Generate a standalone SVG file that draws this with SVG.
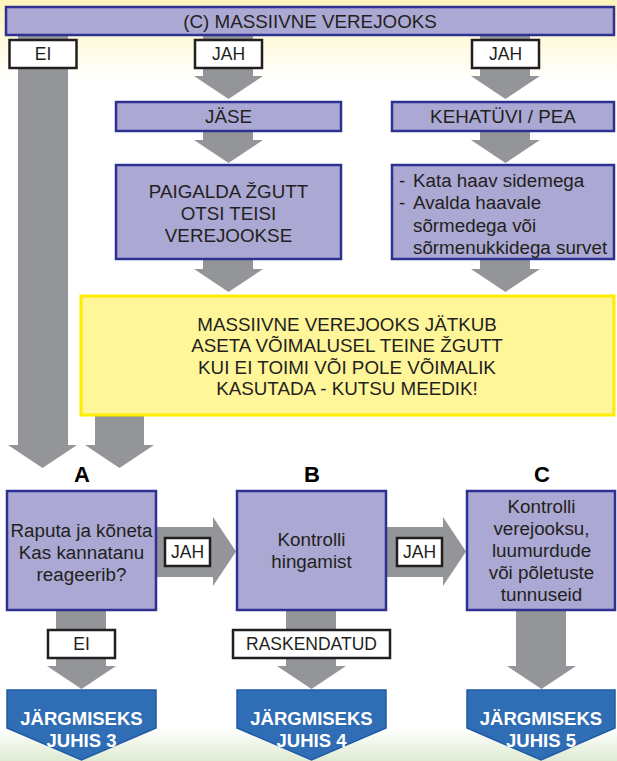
<svg xmlns="http://www.w3.org/2000/svg" width="617" height="761" viewBox="0 0 617 761">
<defs>
<linearGradient id="topg" x1="0" y1="0" x2="0" y2="1">
<stop offset="0" stop-color="#fdf4bc"/>
<stop offset="1" stop-color="#ffffff"/>
</linearGradient>
<linearGradient id="botg" x1="0" y1="0" x2="0" y2="1">
<stop offset="0" stop-color="#ffffff"/>
<stop offset="1" stop-color="#dfebd3"/>
</linearGradient>
<style>
text{font-family:"Liberation Sans",Arial,sans-serif;font-size:18.8px;fill:#231f20;text-anchor:middle}
.box{fill:#aba8d3;stroke:#2e3192;stroke-width:2.5}
.lbl{fill:#ffffff;stroke:#231f20;stroke-width:2.5}
.lt{font-size:17.5px}
.arr{fill:#939598}
.ylw{fill:#fff599;stroke:#ffed00;stroke-width:3}
.blue{fill:#2f6db5;stroke:#1f5ba6;stroke-width:1.5}
.bt{fill:#ffffff;font-weight:bold;font-size:18.5px}
.hd{font-weight:bold;font-size:22px;fill:#000}
.lft{text-anchor:start}
</style>
</defs>
<rect x="0" y="0" width="617" height="761" fill="#ffffff"/>
<rect x="0" y="0" width="617" height="80" fill="url(#topg)"/>
<rect x="0" y="728" width="617" height="33" fill="url(#botg)"/>

<g id="connectors">
<polygon class="arr" points="18,35 68,35 68,445 77,445 42.5,468 8,445 18,445"/>
<polygon class="arr" points="203,35 253,35 253,76 263,76 228.5,99 194,76 203,76"/>
<polygon class="arr" points="480,35 530,35 530,76 540,76 505.5,99 471,76 480,76"/>
<polygon class="arr" points="203,131 253,131 253,140 263,140 228.5,163 194,140 203,140"/>
<polygon class="arr" points="480,131 530,131 530,140 540,140 505.5,163 471,140 480,140"/>
<polygon class="arr" points="203,259 253,259 253,269 263,269 228.5,292 194,269 203,269"/>
<polygon class="arr" points="480,259 530,259 530,269 540,269 505.5,292 471,269 480,269"/>
<polygon class="arr" points="95,415 144,415 144,445 154,445 119.5,468 85,445 95,445"/>
<polygon class="arr" points="156,527 213,527 213,517 236,551.5 213,586 213,577 156,577"/>
<polygon class="arr" points="386,527 443,527 443,517 466,551.5 443,586 443,577 386,577"/>
<polygon class="arr" points="56,610 106,610 106,666 116,666 81.5,689 47,666 56,666"/>
<polygon class="arr" points="286,610 336,610 336,666 346,666 311.5,689 277,666 286,666"/>
<polygon class="arr" points="516,610 566,610 566,666 576,666 541.5,689 507,666 516,666"/>
</g>

<g id="top">
<rect class="box" x="6" y="7" width="608" height="28"/>
<text x="310" y="28">(C) MASSIIVNE VEREJOOKS</text>
</g>
<g id="lbl-ei-top">
<rect class="lbl" x="9.5" y="40" width="67" height="28"/>
<text class="lt" x="43" y="60">EI</text>
</g>
<g id="lbl-jah-1">
<rect class="lbl" x="195" y="40" width="67" height="28"/>
<text class="lt" x="228.5" y="60">JAH</text>
</g>
<g id="lbl-jah-2">
<rect class="lbl" x="472" y="40" width="67" height="28"/>
<text class="lt" x="505.5" y="60">JAH</text>
</g>
<g id="jase">
<rect class="box" x="116" y="102" width="225" height="29"/>
<text x="228.5" y="123">JÄSE</text>
</g>
<g id="kehatuvi">
<rect class="box" x="392" y="102" width="222" height="29"/>
<text x="503" y="123">KEHATÜVI / PEA</text>
</g>
<g id="paigalda">
<rect class="box" x="116" y="165" width="225" height="94"/>
<text x="228.5" y="198">PAIGALDA ŽGUTT</text>
<text x="228.5" y="220">OTSI TEISI</text>
<text x="228.5" y="242">VEREJOOKSE</text>
</g>
<g id="kata">
<rect class="box" x="392" y="165" width="222" height="94"/>
<text class="lft" x="399" y="187">-</text>
<text class="lft" x="413" y="187">Kata haav sidemega</text>
<text class="lft" x="399" y="209">-</text>
<text class="lft" x="413" y="209">Avalda haavale</text>
<text class="lft" x="413" y="232">sõrmedega või</text>
<text class="lft" x="413" y="254">sõrmenukkidega survet</text>
</g>
<g id="jatkub">
<rect class="ylw" x="81" y="296" width="533" height="119"/>
<text x="347" y="331">MASSIIVNE VEREJOOKS JÄTKUB</text>
<text x="347" y="352">ASETA VÕIMALUSEL TEINE ŽGUTT</text>
<text x="347" y="374">KUI EI TOIMI VÕI POLE VÕIMALIK</text>
<text x="347" y="395">KASUTADA - KUTSU MEEDIK!</text>
</g>
<g id="head-a"><text class="hd" x="82" y="482">A</text></g>
<g id="head-b"><text class="hd" x="312" y="482">B</text></g>
<g id="head-c"><text class="hd" x="542" y="482">C</text></g>
<g id="box-a">
<rect class="box" x="7" y="491" width="149" height="119"/>
<text x="81.5" y="537">Raputa ja kõneta</text>
<text x="81.5" y="559">Kas kannatanu</text>
<text x="81.5" y="581">reageerib?</text>
</g>
<g id="box-b">
<rect class="box" x="237" y="491" width="149" height="119"/>
<text x="311.5" y="546">Kontrolli</text>
<text x="311.5" y="568">hingamist</text>
</g>
<g id="box-c">
<rect class="box" x="467" y="491" width="148" height="119"/>
<text x="541.5" y="513">Kontrolli</text>
<text x="541.5" y="535">verejooksu,</text>
<text x="541.5" y="557">luumurdude</text>
<text x="541.5" y="579">või põletuste</text>
<text x="541.5" y="601">tunnuseid</text>
</g>
<g id="lbl-jah-ab">
<rect class="lbl" x="165" y="538" width="45" height="28"/>
<text class="lt" x="187.5" y="558">JAH</text>
</g>
<g id="lbl-jah-bc">
<rect class="lbl" x="397" y="538" width="45" height="28"/>
<text class="lt" x="419.5" y="558">JAH</text>
</g>
<g id="lbl-ei-a">
<rect class="lbl" x="48" y="630" width="67" height="28"/>
<text class="lt" x="81.5" y="650">EI</text>
</g>
<g id="lbl-rask">
<rect class="lbl" x="233" y="630" width="157" height="28"/>
<text class="lt" x="311.5" y="650">RASKENDATUD</text>
</g>
<g id="next-3">
<polygon class="blue" points="7,690 156,690 156,728 81.5,760 7,728"/>
<text class="bt" x="81.5" y="725">JÄRGMISEKS</text>
<text class="bt" x="81.5" y="747">JUHIS 3</text>
</g>
<g id="next-4">
<polygon class="blue" points="237,690 386,690 386,728 311.5,760 237,728"/>
<text class="bt" x="311.5" y="725">JÄRGMISEKS</text>
<text class="bt" x="311.5" y="747">JUHIS 4</text>
</g>
<g id="next-5">
<polygon class="blue" points="467,690 615,690 615,728 541,760 467,728"/>
<text class="bt" x="541" y="725">JÄRGMISEKS</text>
<text class="bt" x="541" y="747">JUHIS 5</text>
</g>
</svg>
